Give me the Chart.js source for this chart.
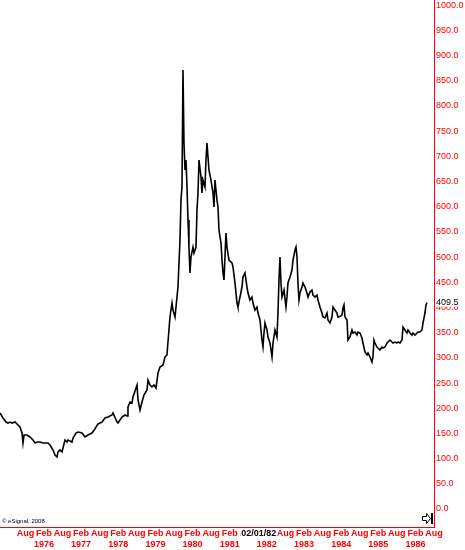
<!DOCTYPE html>
<html>
<head>
<meta charset="utf-8">
<script src="https://cdn.jsdelivr.net/npm/chart.js@4.4.1/dist/chart.umd.min.js"></script>
<style>
  html, body { margin: 0; padding: 0; background: #fff; }
  #wrap { width: 465px; height: 550px; }
</style>
</head>
<body>
<div id="wrap"><canvas id="goldChart"></canvas></div>
<script>
// weekly-ish readings of the price line (decimal year, price)
const dates = [
  1974.900, 1974.981, 1975.062, 1975.115, 1975.169, 1975.223, 1975.304, 1975.385, 1975.438, 1975.492,
  1975.519, 1975.546, 1975.627, 1975.708, 1975.788, 1975.842, 1975.896, 1975.977, 1976.057, 1976.192,
  1976.246, 1976.327, 1976.381, 1976.434, 1976.461, 1976.515, 1976.569, 1976.596, 1976.650, 1976.703,
  1976.730, 1976.838, 1976.865, 1976.946, 1977.000, 1977.107, 1977.188, 1977.269, 1977.376, 1977.457,
  1977.538, 1977.646, 1977.726, 1977.807, 1977.915, 1977.942, 1978.049, 1978.076, 1978.184, 1978.265,
  1978.319, 1978.345, 1978.399, 1978.453, 1978.480, 1978.588, 1978.615, 1978.669, 1978.722, 1978.776,
  1978.857, 1978.884, 1978.938, 1978.991, 1979.045, 1979.099, 1979.153, 1979.207, 1979.288, 1979.341,
  1979.395, 1979.422, 1979.476, 1979.530, 1979.557, 1979.611, 1979.664, 1979.691, 1979.745, 1979.772,
  1979.799, 1979.826, 1979.853, 1979.880, 1979.907, 1979.934, 1979.961, 1979.987, 1980.014, 1980.041,
  1980.095, 1980.122, 1980.176, 1980.203, 1980.230, 1980.257, 1980.311, 1980.337, 1980.364, 1980.418,
  1980.445, 1980.472, 1980.499, 1980.526, 1980.580, 1980.634, 1980.660, 1980.687, 1980.741, 1980.768,
  1980.795, 1980.849, 1980.876, 1980.903, 1980.930, 1980.983, 1981.010, 1981.064, 1981.145, 1981.172,
  1981.226, 1981.280, 1981.306, 1981.360, 1981.414, 1981.441, 1981.495, 1981.549, 1981.576, 1981.629,
  1981.683, 1981.710, 1981.764, 1981.818, 1981.845, 1981.899, 1981.952, 1981.979, 1982.006, 1982.033,
  1982.087, 1982.114, 1982.168, 1982.195, 1982.222, 1982.249, 1982.302, 1982.356, 1982.383, 1982.410,
  1982.437, 1982.464, 1982.491, 1982.545, 1982.598, 1982.625, 1982.652, 1982.706, 1982.760, 1982.787,
  1982.841, 1982.868, 1982.895, 1982.921, 1982.948, 1982.975, 1983.029, 1983.056, 1983.110, 1983.164,
  1983.191, 1983.245, 1983.298, 1983.325, 1983.379, 1983.433, 1983.460, 1983.514, 1983.568, 1983.594,
  1983.648, 1983.702, 1983.729, 1983.783, 1983.837, 1983.864, 1983.917, 1983.971, 1983.998, 1984.052,
  1984.106, 1984.133, 1984.160, 1984.187, 1984.241, 1984.267, 1984.321, 1984.375, 1984.402, 1984.456,
  1984.510, 1984.537, 1984.590, 1984.644, 1984.671, 1984.725, 1984.779, 1984.806, 1984.860, 1984.913,
  1984.940, 1984.967, 1984.994, 1985.048, 1985.075, 1985.129, 1985.183, 1985.210, 1985.263, 1985.317,
  1985.344, 1985.398, 1985.452, 1985.479, 1985.533, 1985.586, 1985.613, 1985.667, 1985.721, 1985.748,
  1985.802, 1985.856, 1985.883, 1985.936, 1985.990, 1986.017, 1986.071, 1986.125, 1986.152, 1986.206,
  1986.259, 1986.286, 1986.340, 1986.367, 1986.394
];
const prices = [
  190.5, 180.6, 172.6, 170.6, 172.6, 170.6, 172.6, 166.7, 162.7, 150.8,
  131.0, 146.8, 146.8, 142.9, 136.9, 131.0, 132.9, 132.9, 131.0, 131.0,
  127.0, 117.1, 107.1, 103.2, 113.1, 117.1, 113.1, 121.0, 136.9, 132.9,
  136.9, 132.9, 140.9, 150.8, 152.8, 150.8, 142.9, 146.8, 150.8, 159.0,
  168.7, 172.6, 180.6, 182.5, 186.5, 190.5, 172.6, 170.6, 182.5, 186.5,
  184.5, 202.4, 212.3, 210.3, 222.2, 246.0, 216.3, 196.4, 212.3, 226.2,
  236.1, 256.0, 246.0, 242.1, 246.0, 240.1, 269.8, 281.7, 285.7, 301.6,
  305.6, 331.3, 381.0, 408.7, 394.8, 381.0, 420.6, 440.5, 533.7, 613.1,
  638.9, 871.0, 726.2, 672.6, 692.5, 638.9, 573.4, 519.8, 468.3, 500.0,
  519.8, 507.9, 519.8, 593.3, 627.0, 692.5, 658.7, 627.0, 652.8, 638.9,
  692.5, 726.2, 698.4, 672.6, 652.8, 627.0, 599.2, 652.8, 613.1, 599.2,
  553.6, 527.8, 494.0, 468.3, 454.4, 547.6, 519.8, 494.0, 488.1, 480.2,
  448.4, 408.7, 400.8, 420.6, 440.5, 460.3, 468.3, 440.5, 428.6, 414.7,
  420.6, 408.7, 394.8, 400.8, 388.9, 375.0, 335.3, 321.4, 349.2, 369.0,
  355.2, 341.3, 329.4, 315.5, 301.6, 329.4, 355.2, 341.3, 388.9, 454.4,
  500.0, 448.4, 420.6, 434.5, 400.8, 420.6, 448.4, 460.3, 474.2, 494.0,
  513.9, 519.8, 500.0, 448.4, 414.7, 428.6, 440.5, 448.4, 440.5, 428.6,
  420.6, 430.6, 434.5, 424.6, 420.6, 424.6, 414.7, 400.8, 388.9, 381.0,
  379.0, 388.9, 375.0, 369.0, 381.0, 400.8, 394.8, 388.9, 381.0, 382.0,
  384.9, 398.8, 404.8, 381.0, 375.0, 335.3, 341.3, 355.2, 349.2, 351.2,
  345.2, 351.2, 349.2, 339.3, 329.4, 311.5, 305.6, 309.5, 301.6, 291.7,
  301.6, 335.3, 329.4, 321.4, 319.4, 315.5, 321.4, 319.4, 321.4, 329.4,
  331.3, 335.3, 331.3, 329.4, 331.3, 329.4, 331.3, 329.4, 335.3, 361.1,
  355.2, 349.2, 355.2, 349.2, 345.2, 349.2, 345.2, 349.2, 351.2, 351.2,
  355.2, 369.0, 388.9, 405.0, 409.5
];

// x axis: Feb / Aug marks, years shown under Feb
const tickYears = [1975, 1976, 1977, 1978, 1979, 1980, 1981, 1982, 1983, 1984, 1985, 1986];
const lastPrice = 409.5;
const cursorDate = '02/01/82';
const cursorYear = 1982;
const copyright = '\u00a9 eSignal, 2008';

const RED = '#ff0000';

function buildXTicks(scale) {
  const t = [];
  tickYears.forEach(y => {
    if (y > 1975) t.push({ value: y + 1 / 12, kind: 'Feb', year: y });
    t.push({ value: y + 7 / 12, kind: 'Aug', year: y });
  });
  scale.ticks = t;
}

const extras = {
  id: 'extras',
  afterDraw(chart) {
    const ctx = chart.ctx;
    const xs = chart.scales.x, ys = chart.scales.y;
    const area = chart.chartArea;
    ctx.save();
    // last price tag on the right axis
    const py = ys.getPixelForValue(lastPrice);
    ctx.fillStyle = '#fff';
    ctx.fillRect(area.right + 1, py - 6, 30, 10);
    ctx.fillStyle = '#000';
    ctx.font = '9px "Liberation Sans", Arial, sans-serif';
    ctx.textBaseline = 'middle';
    ctx.textAlign = 'left';
    ctx.fillText(lastPrice.toFixed(1), area.right + 2, py);
    // cursor date on the time axis
    const cx = xs.getPixelForValue(cursorYear + 1 / 12) - 8;
    ctx.font = 'bold 9px "Liberation Sans", Arial, sans-serif';
    ctx.textAlign = 'center';
    const w = ctx.measureText(cursorDate).width;
    ctx.fillStyle = '#fff';
    ctx.fillRect(cx - w / 2 - 1, area.bottom + 1, w + 2, 11);
    ctx.fillStyle = '#000';
    ctx.fillText(cursorDate, cx, area.bottom + 7);
    // copyright
    ctx.font = '6px "Liberation Sans", Arial, sans-serif';
    ctx.textAlign = 'left';
    ctx.fillText(copyright, area.left + 2, area.bottom - 6);
    // small scroll-to-end arrow
    const ax = area.right - 12, ay = area.bottom - 9;
    ctx.strokeStyle = '#000';
    ctx.lineWidth = 1;
    ctx.beginPath();
    ctx.moveTo(ax + 0.5, ay - 1.5);
    ctx.lineTo(ax + 4.5, ay - 1.5);
    ctx.lineTo(ax + 4.5, ay - 4.5);
    ctx.lineTo(ax + 8.5, ay + 0.5);
    ctx.lineTo(ax + 4.5, ay + 5.5);
    ctx.lineTo(ax + 4.5, ay + 2.5);
    ctx.lineTo(ax + 0.5, ay + 2.5);
    ctx.closePath();
    ctx.stroke();
    ctx.fillStyle = '#000';
    ctx.fillRect(ax + 9, ay - 5, 2, 11);
    ctx.restore();
  }
};

new Chart(document.getElementById('goldChart'), {
  type: 'line',
  data: {
    datasets: [{
      data: dates.map((d, i) => ({ x: d, y: prices[i] })),
      borderColor: '#000',
      borderWidth: 1.6,
      pointRadius: 0,
      tension: 0,
      fill: false
    }]
  },
  options: {
    responsive: true,
    maintainAspectRatio: false,
    animation: false,
    layout: { padding: 0 },
    plugins: { legend: { display: false }, tooltip: { enabled: false } },
    scales: {
      x: {
        type: 'linear',
        min: 1974.90,
        max: 1986.583,
        afterBuildTicks: buildXTicks,
        afterFit(scale) {
          scale.height = 23;
          scale.paddingLeft = 0;
          scale.paddingRight = 0;
        },
        grid: { display: false, drawTicks: false },
        border: { display: true, color: RED, width: 1 },
        ticks: {
          autoSkip: false,
          maxRotation: 0,
          padding: 1,
          color: RED,
          font: { family: '"Liberation Sans", Arial, sans-serif', size: 9, weight: 'bold', lineHeight: 1.25 },
          callback(value, index, ticks) {
            const t = ticks[index];
            if (t.kind === 'Feb') return [t.year === cursorYear ? '' : 'Feb', String(t.year)];
            return ['Aug', ''];
          }
        }
      },
      y: {
        position: 'right',
        min: -35.7,
        max: 1010,
        afterBuildTicks(scale) {
          const t = [];
          for (let v = 0; v <= 1000; v += 50) t.push({ value: v });
          scale.ticks = t;
        },
        afterFit(scale) {
          scale.width = 31;
          scale.paddingTop = 0;
          scale.paddingBottom = 0;
        },
        grid: { display: false, drawTicks: false },
        border: { display: true, color: RED, width: 1 },
        ticks: {
          padding: 2,
          color: RED,
          font: { family: '"Liberation Sans", Arial, sans-serif', size: 9 },
          callback: v => v.toFixed(1)
        }
      }
    }
  },
  plugins: [extras]
});
</script>
</body>
</html>
